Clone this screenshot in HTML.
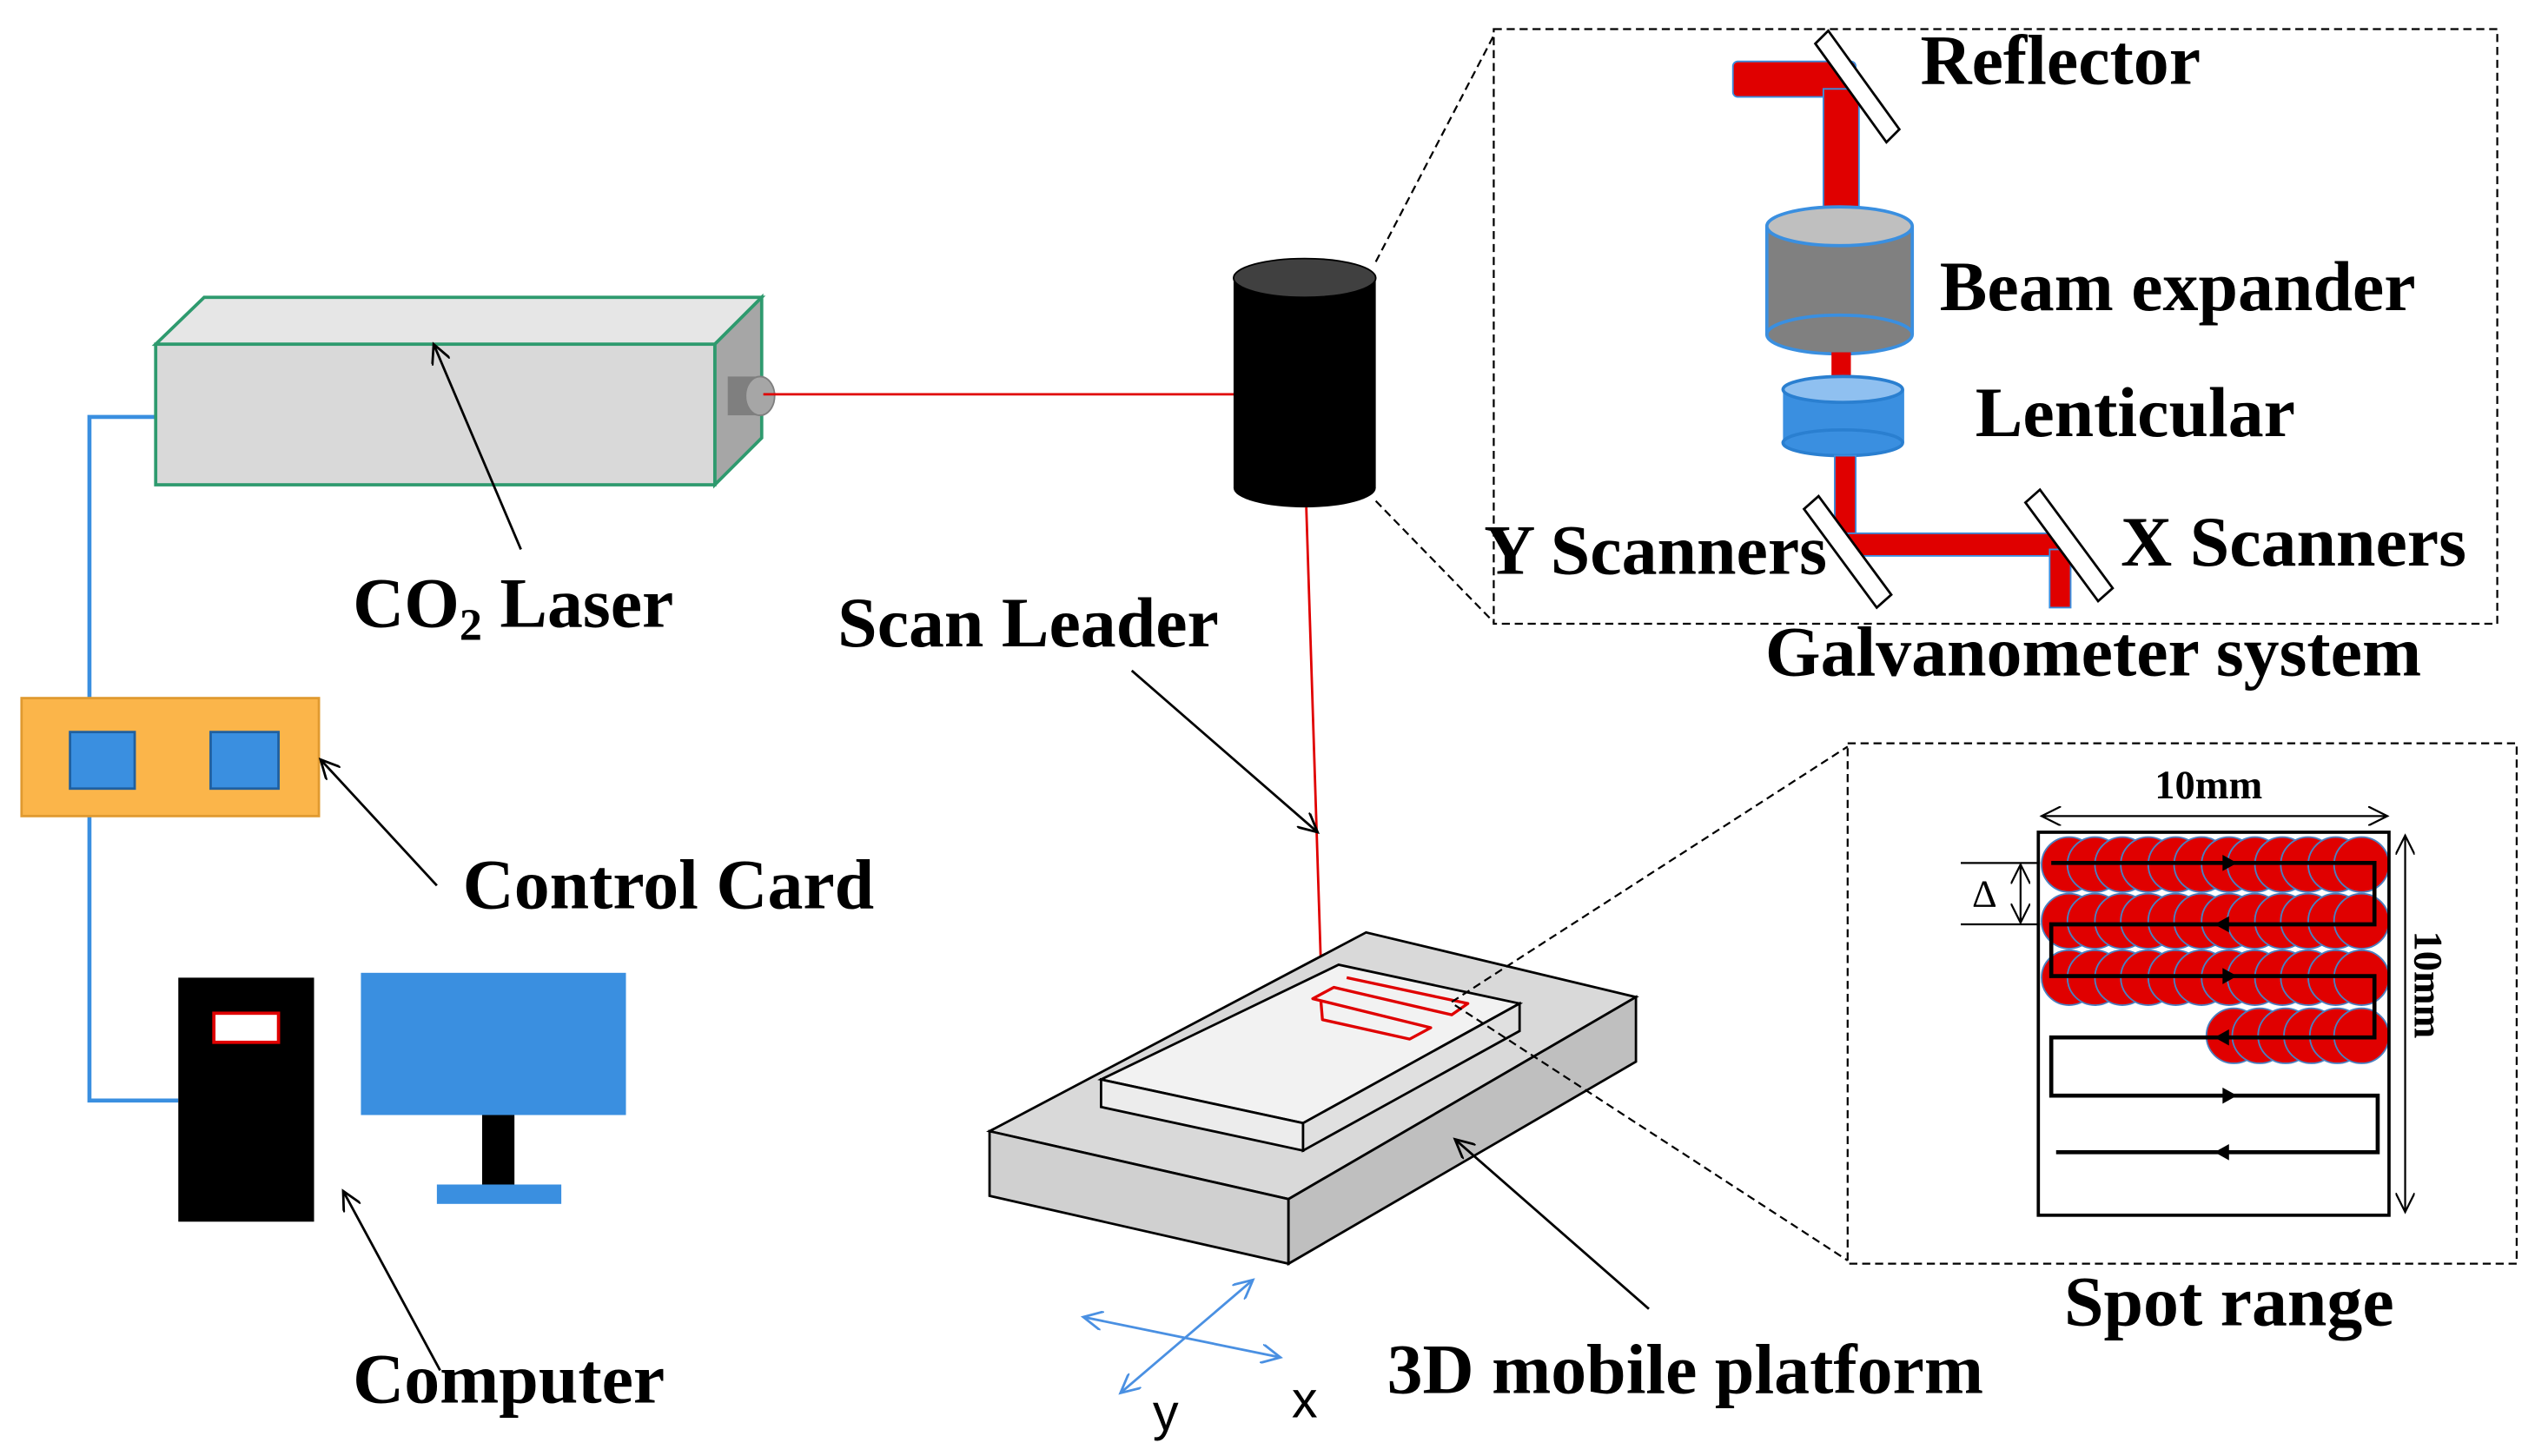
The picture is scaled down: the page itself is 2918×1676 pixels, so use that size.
<!DOCTYPE html>
<html><head><meta charset="utf-8"><style>html,body{margin:0;padding:0;background:#fff}svg{display:block}</style></head>
<body>
<svg width="2918" height="1676" viewBox="0 0 1568 901" xmlns="http://www.w3.org/2000/svg" font-family="'Liberation Serif',serif" font-weight="bold">
<defs>
<marker id="ah" markerWidth="14" markerHeight="12" refX="12" refY="6" orient="auto" markerUnits="userSpaceOnUse"><path d="M0,0 L12,6 L0,12" fill="none" stroke="#000" stroke-width="1.5"/></marker>
<marker id="bh" markerWidth="14" markerHeight="12" refX="12" refY="6" orient="auto-start-reverse" markerUnits="userSpaceOnUse"><path d="M0,0 L12,6 L0,12" fill="none" stroke="#4a90e2" stroke-width="1.5"/></marker>
<marker id="dh" markerWidth="14" markerHeight="12" refX="12" refY="6" orient="auto-start-reverse" markerUnits="userSpaceOnUse"><path d="M0,0 L12,6 L0,12" fill="none" stroke="#000" stroke-width="1.2"/></marker>
</defs>
<!-- wires -->
<polyline points="96,258 55,258 55,432" fill="none" stroke="#3a8fe0" stroke-width="2.5"/>
<polyline points="55,505 55,681 110,681" fill="none" stroke="#3a8fe0" stroke-width="2.5"/>
<!-- laser -->
<polygon points="96,213 126,184 471,184 442,213" fill="#e6e6e6" stroke="#2e9a6e" stroke-width="2"/>
<polygon points="442,213 471,184 471,271 442,300" fill="#a6a6a6" stroke="#2e9a6e" stroke-width="2"/>
<rect x="96" y="213" width="346" height="87" fill="#d9d9d9" stroke="#2e9a6e" stroke-width="2"/>
<rect x="450" y="233" width="20" height="24" fill="#7f7f7f"/>
<ellipse cx="470" cy="245" rx="9" ry="12" fill="#a6a6a6" stroke="#7f7f7f"/>
<line x1="472" y1="244" x2="765" y2="244" stroke="#e00000" stroke-width="1.5"/>
<line x1="322" y1="340" x2="268" y2="213" stroke="#000" stroke-width="1.5" marker-end="url(#ah)"/>
<text x="218" y="388" font-size="44">CO<tspan font-size="28" dy="8">2</tspan><tspan dy="-8"> Laser</tspan></text>
<!-- control card -->
<rect x="13" y="432" width="184" height="73" fill="#fbb54a" stroke="#e09a30" stroke-width="1.5"/>
<rect x="43" y="453" width="40" height="35" fill="#3a8fe0" stroke="#2060a0" stroke-width="1.5"/>
<rect x="130" y="453" width="42" height="35" fill="#3a8fe0" stroke="#2060a0" stroke-width="1.5"/>
<line x1="270" y1="548" x2="198" y2="470" stroke="#000" stroke-width="1.5" marker-end="url(#ah)"/>
<text x="286" y="562" font-size="44">Control Card</text>
<!-- computer -->
<rect x="110" y="605" width="84" height="151" fill="#000"/>
<rect x="132" y="627" width="40" height="18" fill="#fff" stroke="#e00000" stroke-width="2"/>
<rect x="223" y="602" width="164" height="88" fill="#3a8fe0"/>
<rect x="298" y="690" width="20" height="43" fill="#000"/>
<rect x="270" y="733" width="77" height="12" fill="#3a8fe0"/>
<line x1="272" y1="848" x2="212" y2="737" stroke="#000" stroke-width="1.5" marker-end="url(#ah)"/>
<text x="218" y="868" font-size="44">Computer</text>
<!-- scan head -->
<rect x="763" y="172" width="88" height="130" fill="#000"/>
<ellipse cx="807" cy="302" rx="44" ry="12" fill="#000"/>
<ellipse cx="807" cy="172" rx="44" ry="12" fill="#404040" stroke="#000"/>
<line x1="851" y1="162" x2="924" y2="22" stroke="#000" stroke-dasharray="5,3" stroke-width="1.2"/>
<line x1="851" y1="310" x2="924" y2="385" stroke="#000" stroke-dasharray="5,3" stroke-width="1.2"/>
<line x1="808" y1="314" x2="818" y2="627" stroke="#e00000" stroke-width="1.5"/>
<line x1="700" y1="415" x2="815" y2="515" stroke="#000" stroke-width="1.5" marker-end="url(#ah)"/>
<text x="518" y="400" font-size="44">Scan Leader</text>
<!-- platform -->
<polygon points="612,700 845,577 1012,617 797,742" fill="#d9d9d9" stroke="#000" stroke-width="1.5"/>
<polygon points="612,700 797,742 797,782 612,740" fill="#d0d0d0" stroke="#000" stroke-width="1.5"/>
<polygon points="797,742 1012,617 1012,657 797,782" fill="#bfbfbf" stroke="#000" stroke-width="1.5"/>
<polygon points="681,668 828,597 940,621 806,695" fill="#f2f2f2" stroke="#000" stroke-width="1.5"/>
<polygon points="681,668 806,695 806,712 681,685" fill="#ececec" stroke="#000" stroke-width="1.5"/>
<polygon points="806,695 940,621 940,638 806,712" fill="#e0e0e0" stroke="#000" stroke-width="1.5"/>
<path d="M833,605 L908,621 L898,628 L825,611 L812,618 L885,636 L872,643 L818,631 L817,619" fill="none" stroke="#e00000" stroke-width="1.8" stroke-linejoin="round"/>
<line x1="898" y1="620" x2="1143" y2="462" stroke="#000" stroke-dasharray="5,3" stroke-width="1.2"/>
<line x1="900" y1="622" x2="1143" y2="780" stroke="#000" stroke-dasharray="5,3" stroke-width="1.2"/>
<line x1="1020" y1="810" x2="900" y2="705" stroke="#000" stroke-width="1.5" marker-end="url(#ah)"/>
<text x="858" y="862" font-size="44">3D mobile platform</text>
<!-- axes -->
<line x1="670" y1="815" x2="792" y2="840" stroke="#4a90e2" stroke-width="1.5" marker-start="url(#bh)" marker-end="url(#bh)"/>
<line x1="775" y1="792" x2="693" y2="862" stroke="#4a90e2" stroke-width="1.5" marker-start="url(#bh)" marker-end="url(#bh)"/>
<text x="713" y="885" font-size="32" font-family="'Liberation Sans',sans-serif" font-weight="normal">y</text>
<text x="799" y="877" font-size="32" font-family="'Liberation Sans',sans-serif" font-weight="normal">x</text>
<!-- galvo box -->
<rect x="924" y="18" width="621" height="368" fill="none" stroke="#000" stroke-dasharray="5,3" stroke-width="1.2"/>
<rect x="1072" y="38" width="76" height="22" rx="3" fill="#e00000" stroke="#3a8fe0" stroke-width="1"/>
<rect x="1128" y="55" width="22" height="80" fill="#e00000" stroke="#3a8fe0" stroke-width="1"/>
<polygon points="1123,27 1131,19 1175,80 1167,88" fill="#fff" stroke="#000" stroke-width="1.5"/>
<rect x="1093" y="140" width="90" height="67" fill="#808080"/>
<ellipse cx="1138" cy="207" rx="45" ry="12" fill="#808080" stroke="#3a8fe0" stroke-width="2"/>
<line x1="1093" y1="140" x2="1093" y2="207" stroke="#3a8fe0" stroke-width="2"/>
<line x1="1183" y1="140" x2="1183" y2="207" stroke="#3a8fe0" stroke-width="2"/>
<ellipse cx="1138" cy="140" rx="45" ry="12" fill="#bfbfbf" stroke="#3a8fe0" stroke-width="2"/>
<rect x="1133" y="218" width="12" height="20" fill="#e00000"/>
<rect x="1103" y="241" width="75" height="33" fill="#3a8fe0"/>
<ellipse cx="1140" cy="274" rx="37" ry="8" fill="#3a8fe0" stroke="#2a7fd0" stroke-width="2"/>
<ellipse cx="1140" cy="241" rx="37" ry="8" fill="#8fc0f0" stroke="#2a7fd0" stroke-width="2"/>
<rect x="1135" y="282" width="13" height="58" fill="#e00000" stroke="#3a8fe0" stroke-width="1"/>
<rect x="1143" y="330" width="133" height="14" fill="#e00000" stroke="#3a8fe0" stroke-width="1"/>
<rect x="1268" y="340" width="13" height="36" fill="#e00000" stroke="#3a8fe0" stroke-width="1"/>
<polygon points="1116,315 1125,307 1170,368 1161,376" fill="#fff" stroke="#000" stroke-width="1.5"/>
<polygon points="1253,311 1262,303 1307,364 1298,372" fill="#fff" stroke="#000" stroke-width="1.5"/>
<text x="1188" y="52" font-size="44">Reflector</text>
<text x="1200" y="192" font-size="44">Beam expander</text>
<text x="1222" y="270" font-size="44">Lenticular</text>
<text x="918" y="355" font-size="44">Y Scanners</text>
<text x="1312" y="350" font-size="44">X Scanners</text>
<text x="1092" y="418" font-size="44">Galvanometer system</text>
<!-- spot box -->
<rect x="1143" y="460" width="414" height="322" fill="none" stroke="#000" stroke-dasharray="5,3" stroke-width="1.2"/>
<g fill="#e00000" stroke="#4a80c0" stroke-width="1">
<circle cx="1280" cy="535" r="17"/><circle cx="1296" cy="535" r="17"/><circle cx="1313" cy="535" r="17"/><circle cx="1329" cy="535" r="17"/><circle cx="1346" cy="535" r="17"/><circle cx="1362" cy="535" r="17"/><circle cx="1379" cy="535" r="17"/><circle cx="1395" cy="535" r="17"/><circle cx="1412" cy="535" r="17"/><circle cx="1428" cy="535" r="17"/><circle cx="1445" cy="535" r="17"/><circle cx="1461" cy="535" r="17"/>
<circle cx="1280" cy="570" r="17"/><circle cx="1296" cy="570" r="17"/><circle cx="1313" cy="570" r="17"/><circle cx="1329" cy="570" r="17"/><circle cx="1346" cy="570" r="17"/><circle cx="1362" cy="570" r="17"/><circle cx="1379" cy="570" r="17"/><circle cx="1395" cy="570" r="17"/><circle cx="1412" cy="570" r="17"/><circle cx="1428" cy="570" r="17"/><circle cx="1445" cy="570" r="17"/><circle cx="1461" cy="570" r="17"/>
<circle cx="1280" cy="605" r="17"/><circle cx="1296" cy="605" r="17"/><circle cx="1313" cy="605" r="17"/><circle cx="1329" cy="605" r="17"/><circle cx="1346" cy="605" r="17"/><circle cx="1362" cy="605" r="17"/><circle cx="1379" cy="605" r="17"/><circle cx="1395" cy="605" r="17"/><circle cx="1412" cy="605" r="17"/><circle cx="1428" cy="605" r="17"/><circle cx="1445" cy="605" r="17"/><circle cx="1461" cy="605" r="17"/>
<circle cx="1382" cy="641" r="17"/><circle cx="1398" cy="641" r="17"/><circle cx="1414" cy="641" r="17"/><circle cx="1430" cy="641" r="17"/><circle cx="1446" cy="641" r="17"/><circle cx="1461" cy="641" r="17"/>
</g>
<rect x="1261" y="515" width="217" height="237" fill="none" stroke="#000" stroke-width="2"/>
<polyline points="1269,534 1469,534 1469,572 1269,572 1269,604 1469,604 1469,642 1269,642 1269,678 1471,678 1471,713 1272,713" fill="none" stroke="#000" stroke-width="2.5"/>
<g fill="#000"><path d="M1375,529 L1384,534 L1375,539Z"/><path d="M1379,567 L1370,572 L1379,577Z"/><path d="M1375,599 L1384,604 L1375,609Z"/><path d="M1379,637 L1370,642 L1379,647Z"/><path d="M1375,673 L1384,678 L1375,683Z"/><path d="M1379,708 L1370,713 L1379,718Z"/></g>
<line x1="1263" y1="505" x2="1477" y2="505" stroke="#000" stroke-width="1.2" marker-start="url(#dh)" marker-end="url(#dh)"/>
<line x1="1488" y1="517" x2="1488" y2="750" stroke="#000" stroke-width="1.2" marker-start="url(#dh)" marker-end="url(#dh)"/>
<line x1="1213" y1="534" x2="1262" y2="534" stroke="#000" stroke-width="1.2"/>
<line x1="1213" y1="572" x2="1262" y2="572" stroke="#000" stroke-width="1.2"/>
<line x1="1250" y1="535" x2="1250" y2="571" stroke="#000" stroke-width="1.2" marker-start="url(#dh)" marker-end="url(#dh)"/>
<text x="1333" y="494" font-size="25">10mm</text>
<text x="1220" y="561" font-size="24" font-weight="normal">Δ</text>
<text transform="translate(1494,576) rotate(90)" font-size="25">10mm</text>
<text x="1277" y="820" font-size="44">Spot range</text>
</svg>
</body></html>
